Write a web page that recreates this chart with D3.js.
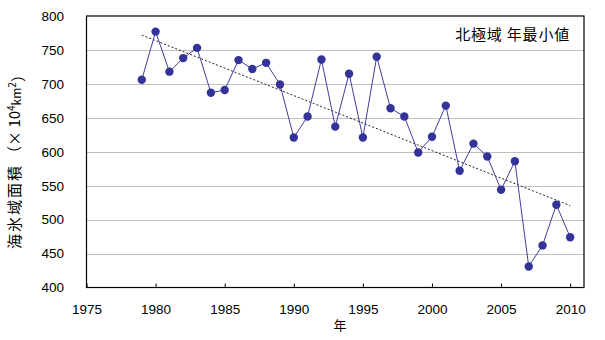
<!DOCTYPE html>
<html><head><meta charset="utf-8">
<script src="https://cdn.jsdelivr.net/npm/d3@7"></script>
<style>body{margin:0;background:#fff}svg{display:block}</style>
</head><body>
<script>
const years = [1979,1980,1981,1982,1983,1984,1985,1986,1987,1988,1989,1990,1991,1992,1993,1994,1995,1996,1997,1998,1999,2000,2001,2002,2003,2004,2005,2006,2007,2008,2009,2010];
const values = [706,777,718,738,753,687,691,735,722,731,699,621,652,736,637,715,621,740,664,652,599,622,668,572,612,593,544,586,431,462,522,474];
const yTicks = [400,450,500,550,600,650,700,750,800];
const xTicks = [1975,1980,1985,1990,1995,2000,2005,2010];
const title = "北極域 年最小値";
const xTitle = "年";

const W = 605, H = 340;
const m = {left: 86.5, right: 584, top: 16, bottom: 287.5};
const svg = d3.select("body").append("svg").attr("width", W).attr("height", H);
const x = d3.scaleLinear().domain([1975, 2011]).range([m.left, m.right]);
const y = d3.scaleLinear().domain([400, 800]).range([m.bottom, m.top]);
const numFont = "'Liberation Sans', Arial, sans-serif";
const cjkFont = "'Noto Sans CJK JP', sans-serif";

// gridlines
svg.append("g").selectAll("line").data(yTicks.slice(1, -1)).join("line")
  .attr("x1", m.left).attr("x2", m.right)
  .attr("y1", d => Math.round(y(d)) + 0.5).attr("y2", d => Math.round(y(d)) + 0.5)
  .attr("stroke", "#c0c0c0").attr("stroke-width", 1);

// y labels
svg.append("g").selectAll("text").data(yTicks).join("text")
  .attr("x", 64).attr("y", d => y(d)).attr("dy", "0.36em")
  .attr("text-anchor", "end").attr("font-family", numFont).attr("font-size", 13.5)
  .text(d => d);

// x axis ticks inward
const xa = svg.append("g").attr("transform", `translate(0,${m.bottom})`)
  .call(d3.axisBottom(x).tickValues(xTicks).tickSizeInner(-4).tickSizeOuter(0).tickFormat(d3.format("d")));
xa.select(".domain").remove();
xa.selectAll(".tick line").attr("stroke", "#000");
xa.selectAll(".tick text").attr("y", 22).attr("dy", "0.36em").attr("font-family", numFont).attr("font-size", 13.5).attr("fill", "#000");

// plot border
svg.append("rect").attr("x", m.left).attr("y", m.top).attr("width", m.right - m.left).attr("height", m.bottom - m.top)
  .attr("fill", "none").attr("stroke", "#000").attr("stroke-width", 1.2);

// trend line (least squares)
const n = years.length;
const mx = d3.mean(years), my = d3.mean(values);
const slope = d3.sum(years, (t, i) => (t - mx) * (values[i] - my)) / d3.sum(years, t => (t - mx) * (t - mx));
const icpt = my - slope * mx;
const t0 = years[0], t1 = years[n - 1];
svg.append("line")
  .attr("x1", x(t0)).attr("y1", y(icpt + slope * t0))
  .attr("x2", x(t1)).attr("y2", y(icpt + slope * t1))
  .attr("stroke", "#222").attr("stroke-width", 1).attr("stroke-dasharray", "2,2");

// series line
const pts = years.map((t, i) => [t, values[i]]);
svg.append("path").datum(pts)
  .attr("d", d3.line().x(d => x(d[0])).y(d => y(d[1])))
  .attr("fill", "none").attr("stroke", "#3f3f9f").attr("stroke-width", 1);
svg.append("g").selectAll("circle").data(pts).join("circle")
  .attr("cx", d => x(d[0])).attr("cy", d => y(d[1])).attr("r", 4.2)
  .attr("fill", "#333399");

// title
svg.append("text").attr("x", 570).attr("y", 34.5).attr("dy", "0.36em").attr("text-anchor", "end")
  .attr("font-family", cjkFont).attr("font-size", 15).attr("letter-spacing", 0.8).text(title);

// x title
svg.append("text").attr("x", 340).attr("y", 325).attr("dy", "0.36em").attr("text-anchor", "middle")
  .attr("font-family", cjkFont).attr("font-size", 13).text(xTitle);

// y title
const yt = svg.append("text").attr("transform", "translate(15,158) rotate(-90)")
  .attr("text-anchor", "middle").attr("dy", "0.36em")
  .attr("font-family", cjkFont).attr("font-size", 15);
yt.append("tspan").attr("letter-spacing", 2).text("海氷域面積");
yt.append("tspan").attr("dx", 3).text("（× 10");
yt.append("tspan").attr("font-size", 10).attr("dy", "-0.5em").text("4");
yt.append("tspan").attr("font-size", 12).attr("dy", "0.5em").text("km");
yt.append("tspan").attr("font-size", 10).attr("dy", "-0.5em").text("2");
yt.append("tspan").attr("dy", "0.5em").text("）");
</script>
</body></html>
